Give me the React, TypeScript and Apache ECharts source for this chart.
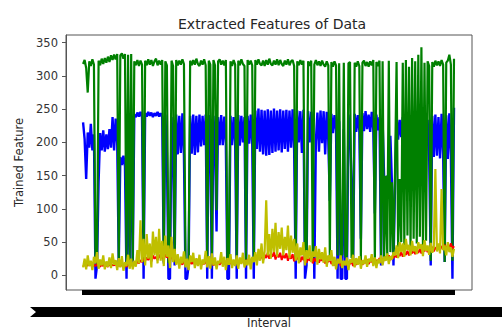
import React, { useEffect, useRef } from "react";
import * as echarts from "echarts";

const titleText = "Extracted Features of Data";
const yAxisName = "Trained Feature";
const xAxisName = "Interval";
const yTickValues = [0, 50, 100, 150, 200, 250, 300, 350];

// blue series (one value per interval index)
const blueValues = [
  230, 205, 145, 215, 192, 228, 188, 212, -5, 15,
  140, 214, 188, 218, 186, 212, 190, 220, 192, 238,
  188, 236, 198, 18, 178, 166, 180, 164, -5, 172,
  18, 240, 15, 242, 238, 245, 239, 246, 238, -5,
  244, 239, 246, 240, 245, 238, 244, 240, 246, 239,
  244, 238, 18, 242, 184, -5, -5, 238, 180, 15,
  242, 182, 240, 184, 244, 180, -5, -5, 15, 240,
  183, 242, 181, 240, 185, 242, 194, 240, 196, 242,
  -5, 241, 195, -5, 240, 197, 66, 238, 196, 241,
  196, 239, 198, -5, -5, 240, 196, 238, 199, -5,
  241, 195, 240, 200, 238, -5, 240, 198, 242, 196,
  -5, 248, 190, 251, 186, 249, 182, 248, 180, 250,
  181, 248, 184, 251, 186, 248, 188, 250, 185, 248,
  190, 249, 186, 248, 192, 250, 188, -5, 248, 200,
  247, 184, 249, -5, 15, 247, 200, 246, 198, -5,
  202, 245, 186, 248, 199, 247, 182, 246, 203, 112,
  243, 214, 241, 218, -5, 232, -5, -5, 220, -5,
  -5, 242, 214, 146, 15, 243, 216, 241, 218, 55,
  244, 217, 247, 220, 242, 216, 246, 219, 93, 242,
  218, 238, 15, 232, 145, 120, 150, 130, 210, 140,
  15, 135, 240, 204, 234, 208, 238, 206, 242, 204,
  237, 210, 240, 202, 232, 208, 236, 205, 230, 203,
  238, 208, 234, 178, 15, 240, 178, 242, 180, 238,
  176, 243, 182, 20, 241, 175, 244, 180, -5, 252,
];

// green series
const greenValues = [
  318, 324, 312, 275, 322, 315, 325, 317, 22, 18,
  323, 316, 326, 318, 327, 320, 329, 321, 331, 324,
  332, 325, 333, 20, 331, 334, 326, 333, 18, 332,
  20, 333, 22, 322, 316, 324, 315, 323, 317, 20,
  323, 316, 325, 317, 324, 315, 322, 326, 316, 323,
  317, 324, 20, 322, 316, 19, 21, 323, 315, 20,
  324, 316, 323, 317, 325, 318, 20, 18, 22, 323,
  316, 324, 317, 326, 318, 315, 323, 317, 325, 316,
  20, 323, 317, 21, 324, 316, 98, 322, 325, 317,
  323, 316, 324, 19, 21, 322, 315, 324, 317, 20,
  323, 316, 325, 318, 315, 20, 324, 317, 323, 316,
  20, 324, 317, 325, 318, 316, 323, 315, 324, 317,
  326, 318, 316, 323, 317, 325, 316, 324, 318, 315,
  323, 317, 325, 316, 322, 324, 315, 24, 322, 316,
  324, 317, 323, 22, 25, 322, 315, 323, 20, 317,
  324, 316, 322, 315, 323, 317, 314, 322, 316, 28,
  321, 314, 322, 316, 30, 319, 28, 32, 320, 27,
  30, 319, 321, 26, 29, 320, 314, 322, 315, 22,
  320, 323, 315, 321, 314, 322, 316, 324, 20, 321,
  315, 323, 24, 322, 25, 150, 30, 323, 35, 140,
  28, 155, 321, 42, 145, 50, 320, 45, 324, 60,
  314, 40, 327, 55, 322, 48, 332, 58, 343, 45,
  320, 52, 322, 315, 22, 321, 314, 323, 316, 322,
  315, 324, 317, 20, 320, 323, 332, 317, 22, 326,
];

// red series
const redValues = [
  14, 16, 13, 17, 15, 18, 13, 16, 14, 17,
  15, 13, 16, 14, 18, 15, 13, 17, 14, 16,
  15, 18, 13, 16, 14, 17, 12, 15, 13, 16,
  14, 18, 15, 19, 16, 21, 18, 23, 20, 25,
  22, 27, 23, 29, 21, 30, 25, 28, 23, 31,
  26, 29, 24, 32, 27, 28, 22, 30, 25, 27,
  19, 23, 17, 21, 16, 22, 18, 20, 15, 21,
  17, 22, 16, 20, 18, 23, 15, 19, 17, 21,
  16, 20, 18, 22, 15, 19, 17, 21, 16, 20,
  18, 23, 16, 19, 17, 22, 15, 20, 18, 21,
  17, 22, 19, 24, 18, 23, 20, 26, 19, 25,
  22, 28, 21, 30, 24, 32, 23, 31, 26, 34,
  25, 33, 28, 35, 24, 32, 27, 34, 23, 31,
  26, 33, 22, 30, 25, 32, 21, 29, 24, 31,
  20, 28, 23, 30, 19, 27, 22, 29, 18, 26,
  21, 28, 19, 25, 22, 27, 18, 24, 20, 26,
  17, 22, 15, 20, 18, 23, 14, 19, 16, 21,
  15, 20, 17, 22, 14, 19, 16, 21, 18, 23,
  16, 20, 19, 24, 17, 22, 20, 25, 18, 23,
  21, 26, 19, 25, 22, 28, 24, 30, 23, 29,
  26, 31, 27, 33, 29, 35, 28, 34, 31, 37,
  30, 36, 33, 38, 32, 37, 34, 40, 33, 39,
  36, 41, 35, 40, 37, 43, 36, 42, 39, 45,
  38, 44, 41, 46, 39, 45, 42, 48, 40, 44,
];

// yellow series
const yellowValues = [
  12, 25, 9, 30, 14, 22, 8, 28, 18, 35,
  10, 24, 15, 30, 9, 21, 13, 27, 11, 33,
  16, 23, 8, 26, 12, 29, 7, 20, 14, 31,
  10, 25, 9, 22, 13, 38, 18, 83, 20, 55,
  15, 62, 25, 48, 12, 66, 30, 58, 18, 70,
  22, 52, 14, 60, 28, 45, 11, 58, 20, 40,
  16, 32, 10, 28, 18, 36, 12, 25, 8, 30,
  20, 34, 11, 26, 14, 31, 9, 24, 17, 37,
  12, 29, 10, 33, 15, 27, 9, 22, 18, 35,
  13, 28, 8, 26, 16, 32, 11, 24, 14, 30,
  10, 27, 17, 34, 12, 23, 15, 31, 9, 28,
  20, 35, 15, 40, 22, 48, 18, 36, 113, 30,
  62, 25, 70, 35, 79, 28, 65, 40, 72, 30,
  58, 38, 75, 26, 60, 34, 55, 22, 48, 18,
  42, 30, 50, 15, 38, 25, 45, 20, 36, 28,
  44, 16, 40, 24, 35, 19, 42, 13, 30, 22,
  38, 14, 28, 9, 25, 18, 30, 11, 22, 15,
  27, 8, 24, 19, 31, 12, 26, 16, 29, 10,
  23, 17, 30, 13, 25, 20, 32, 14, 27, 11,
  24, 18, 30, 15, 28, 22, 33, 17, 29, 24,
  35, 30, 45, 26, 50, 35, 48, 28, 55, 38,
  46, 30, 52, 36, 44, 32, 50, 40, 47, 29,
  53, 37, 45, 31, 49, 34, 42, 160, 36, 48,
  33, 130, 38, 45, 30, 50, 35, 42, 28, 40,
];

const intervalIndices = blueValues.map((_, i) => i);

export default function App() {
  const ref = useRef<HTMLDivElement>(null);
  useEffect(() => {
    if (!ref.current) return;
    const chart = echarts.init(ref.current, null, { renderer: "svg" });
    const pairs = (arr: number[]) => arr.map((v, i) => [i, v]);
    const font = "DejaVu Sans";
    const lineSeries = (name: string, data: number[], color: string, width: number) => ({
      name,
      type: "line",
      data: pairs(data),
      showSymbol: false,
      symbol: "none",
      lineStyle: { color, width },
      itemStyle: { color },
      emphasis: { disabled: true },
    });
    chart.setOption({
      animation: false,
      backgroundColor: "#ffffff",
      textStyle: { fontFamily: font },
      title: {
        text: titleText,
        left: 173,
        top: 12,
        textStyle: { fontSize: 14, fontWeight: "normal", color: "#262626", fontFamily: font },
      },
      grid: {
        left: 66,
        top: 35,
        width: 406,
        height: 262,
        show: true,
        borderColor: "#555555",
        borderWidth: 1,
        backgroundColor: "transparent",
      },
      xAxis: {
        type: "value",
        min: -11,
        max: 250.6,
        name: xAxisName,
        nameLocation: "middle",
        nameGap: 27,
        nameTextStyle: { fontSize: 11.5, color: "#262626", fontFamily: font },
        axisLine: { show: false, onZero: false },
        splitLine: { show: false },
        axisLabel: { show: false },
        axisTick: {
          show: true,
          customValues: intervalIndices,
          length: 5,
          lineStyle: { color: "#000000", width: 2 },
        },
      },
      yAxis: {
        type: "value",
        min: -22,
        max: 361.6,
        name: yAxisName,
        nameLocation: "middle",
        nameGap: 37,
        nameTextStyle: { fontSize: 11.5, color: "#262626", fontFamily: font },
        axisLine: { show: true, onZero: false, lineStyle: { color: "#555555" } },
        splitLine: { show: false },
        axisTick: {
          show: true,
          customValues: yTickValues,
          length: 4,
          lineStyle: { color: "#555555" },
        },
        axisLabel: {
          customValues: yTickValues,
          margin: 8,
          fontSize: 11.5,
          color: "#333333",
          fontFamily: font,
          formatter: (v: number) => (yTickValues.includes(v) ? String(v) : ""),
        },
      },
      series: [
        lineSeries("blue", blueValues, "#0000ff", 2.4),
        lineSeries("green", greenValues, "#008000", 2.2),
        lineSeries("red", redValues, "#ff0000", 2),
        lineSeries("yellow", yellowValues, "#bfbf00", 2.2),
      ],
      graphic: [
        {
          type: "polygon",
          silent: true,
          shape: {
            points: [
              [30, 307],
              [502, 307],
              [502, 317],
              [30, 317],
              [36, 312],
            ],
          },
          style: { fill: "#000000" },
        },
      ],
    });
    return () => chart.dispose();
  }, []);
  return (
    <div
      ref={ref}
      style={{ position: "absolute", left: 0, top: 0, width: 502, height: 334 }}
    />
  );
}
